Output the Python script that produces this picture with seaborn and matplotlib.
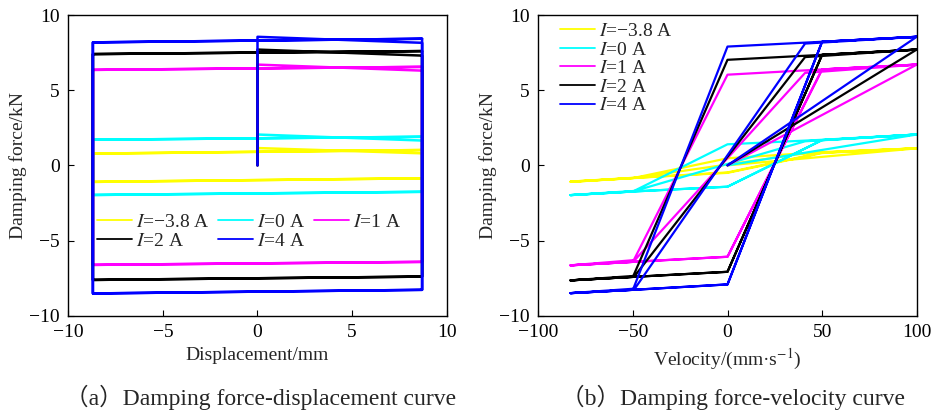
import numpy as np
import pandas as pd
import matplotlib
matplotlib.use('Agg')
import matplotlib.pyplot as plt
import seaborn as sns
from matplotlib.lines import Line2D

# ---------------- data ----------------
currents = ['$I$=−3.8 A', '$I$=0 A', '$I$=1 A', '$I$=2 A', '$I$=4 A']
colors = ['#ffff00', '#00ffff', '#ff00ff', '#000000', '#0000ff']

# displacement path (mm) for the force-displacement loops
disp_path = [0, 0, 8.7, 8.7, -8.7, -8.7, 8.7, 8.7, -8.7, -8.7, 8.7]
force_disp_m38 = [0, 1.15, 0.80, -0.86, -1.10, 0.78, 1.02, -0.86, -1.10, 0.78, 1.02]
force_disp_0 = [0, 2.05, 1.65, -1.76, -1.97, 1.70, 1.90, -1.76, -1.97, 1.70, 1.90]
force_disp_1 = [0, 6.70, 6.30, -6.42, -6.62, 6.35, 6.55, -6.42, -6.62, 6.35, 6.55]
force_disp_2 = [0, 7.70, 7.30, -7.40, -7.62, 7.40, 7.60, -7.40, -7.62, 7.40, 7.60]
force_disp_4 = [0, 8.55, 8.15, -8.28, -8.52, 8.18, 8.42, -8.28, -8.52, 8.18, 8.42]

# velocity path (mm/s) for the force-velocity loops
vel_path = [0, 100, 41, -49, -83, -50, 0, 50, 100, 50, 0, -50, -83, -50, 0, 50, 100]
force_vel_m38 = [0, 1.13, 0.80, -0.83, -1.10, -0.85, -0.47, 0.85, 1.13, 0.88, 0.47,
                 -0.85, -1.08, -0.83, -0.50, 0.82, 1.13]
force_vel_0 = [0, 2.05, 1.60, -1.70, -1.98, -1.74, -1.42, 1.68, 2.05, 1.70, 1.40,
               -1.74, -1.98, -1.74, -1.42, 1.68, 2.05]
force_vel_1 = [0, 6.70, 6.15, -6.30, -6.65, -6.42, -6.08, 6.38, 6.70, 6.38, 6.03,
               -6.42, -6.65, -6.42, -6.08, 6.38, 6.70]
force_vel_2 = [0, 7.70, 7.20, -7.35, -7.65, -7.42, -7.08, 7.35, 7.70, 7.35, 7.02,
               -7.42, -7.65, -7.42, -7.08, 7.35, 7.70]
force_vel_4 = [0, 8.55, 8.10, -8.20, -8.50, -8.28, -7.92, 8.22, 8.55, 8.22, 7.90,
               -8.28, -8.50, -8.28, -7.92, 8.22, 8.55]

disp_forces = [force_disp_m38, force_disp_0, force_disp_1, force_disp_2, force_disp_4]
vel_forces = [force_vel_m38, force_vel_0, force_vel_1, force_vel_2, force_vel_4]

# ---------------- tables ----------------
rows_d = []
for lab, f in zip(currents, disp_forces):
    for i, (x, y) in enumerate(zip(disp_path, f)):
        rows_d.append({'current': lab, 'step': i, 'x': x, 'F': y})
df_d = pd.DataFrame(rows_d)

rows_v = []
for lab, f in zip(currents, vel_forces):
    for i, (x, y) in enumerate(zip(vel_path, f)):
        rows_v.append({'current': lab, 'step': i, 'x': x, 'F': y})
df_v = pd.DataFrame(rows_v)

# ---------------- style ----------------
sns.set_style('ticks')
plt.rcParams['font.family'] = ['Liberation Serif', 'Noto Sans CJK SC', 'DejaVu Sans']
plt.rcParams['mathtext.fontset'] = 'stix'
plt.rcParams['axes.unicode_minus'] = True
plt.rcParams['xtick.direction'] = 'in'
plt.rcParams['ytick.direction'] = 'in'

fig = plt.figure(figsize=(9.33, 4.13), dpi=100)
W, H = 933, 413
ax1 = fig.add_axes([68.3 / W, 1 - 315.7 / H, 378.4 / W, 300.7 / H])
ax2 = fig.add_axes([538.3 / W, 1 - 315.7 / H, 378.4 / W, 300.7 / H])

palette = dict(zip(currents, colors))

sns.lineplot(data=df_d, x='x', y='F', hue='current', hue_order=currents,
             palette=palette, sort=False, estimator=None, lw=1.8, ax=ax1, legend=False)
sns.lineplot(data=df_v, x='x', y='F', hue='current', hue_order=currents,
             palette=palette, sort=False, estimator=None, lw=1.6, ax=ax2, legend=False)

fs = 14
for ax in (ax1, ax2):
    ax.set_ylim(-10, 10)
    ax.set_yticks([-10, -5, 0, 5, 10])
    ax.set_ylabel('Damping force/kN', fontsize=fs, labelpad=2)
    for s in ax.spines.values():
        s.set_visible(True)
        s.set_linewidth(1.0)
        s.set_color('black')
    ax.tick_params(axis='both', labelsize=fs, length=4, width=0.8, colors='black',
                   top=False, right=False, pad=6)

ax1.set_xlim(-10, 10)
ax1.set_xticks([-10, -5, 0, 5, 10])
ax1.set_xlabel('Displacement/mm', fontsize=fs, labelpad=4)
ax2.set_xlim(-100, 100)
ax2.set_xticks([-100, -50, 0, 50, 100])
ax2.set_xlabel('Velocity/(mm·s$^{-1}$)', fontsize=fs, labelpad=4)

handles = [Line2D([], [], color=c, lw=1.3) for c in colors]
order = [0, 3, 1, 4, 2]
ax1.legend([handles[i] for i in order], [currents[i] for i in order], ncol=3,
           loc='upper left', bbox_to_anchor=(0.075, 0.34),
           frameon=False, fontsize=fs, handlelength=1.8, handletextpad=0.2,
           columnspacing=0.45, labelspacing=0.05, borderpad=0, borderaxespad=0)
ax2.legend(handles, currents, ncol=1, loc='upper left', bbox_to_anchor=(0.058, 0.975),
           frameon=False, fontsize=fs, handlelength=1.8, handletextpad=0.2,
           labelspacing=0.05, borderpad=0, borderaxespad=0)

fig.text(261 / W, 1 - 397 / H, '（a）Damping force-displacement curve', fontsize=17,
         ha='center', va='center')
fig.text(733 / W, 1 - 397 / H, '（b）Damping force-velocity curve', fontsize=17,
         ha='center', va='center')

fig.savefig('out.png', dpi=100)
